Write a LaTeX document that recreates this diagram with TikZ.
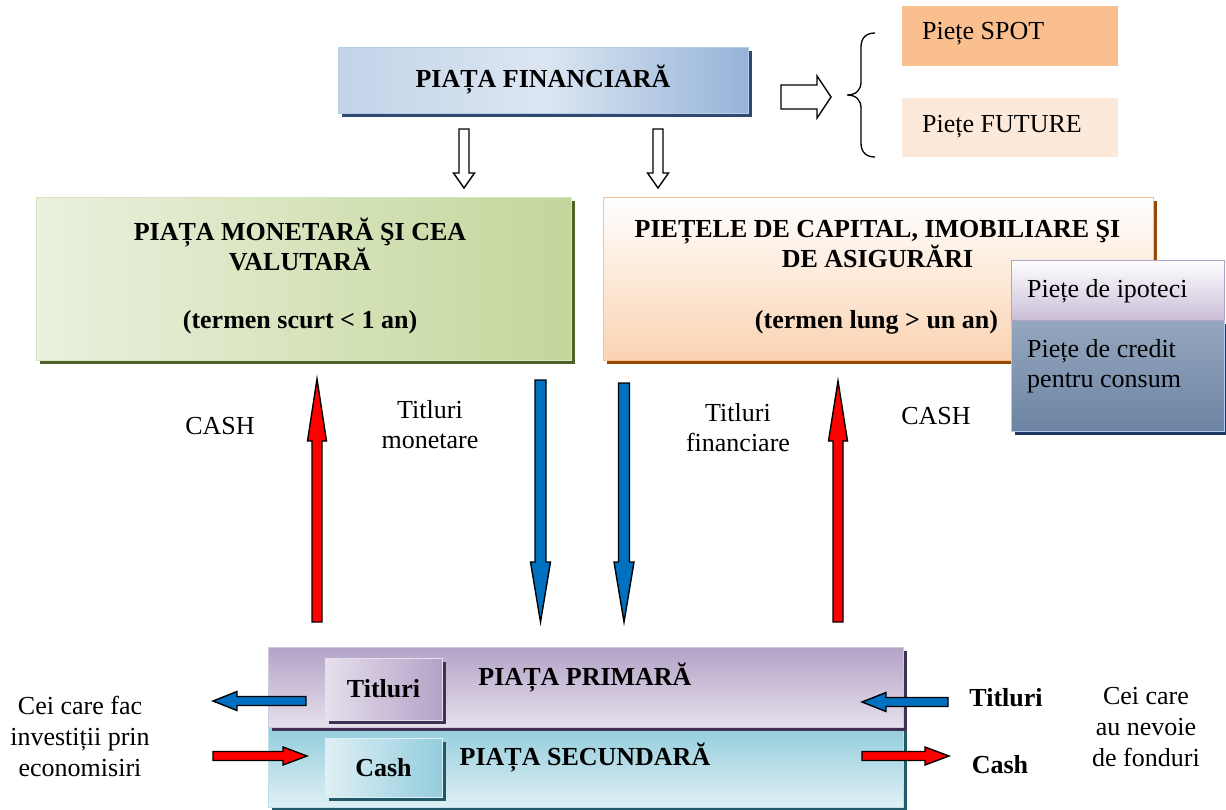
\documentclass[tikz,border=0pt]{standalone}
\usepackage{fontspec}
\setmainfont{Liberation Serif}
\usetikzlibrary{shadows}
\definecolor{pfdark}{HTML}{95B3D7}
\definecolor{pflight}{HTML}{DCE6F2}
\definecolor{pfleft}{HTML}{C2D3E8}
\definecolor{pfshadow}{HTML}{2E4A70}
\definecolor{pfborder}{HTML}{B9CDE5}
\definecolor{grlight}{HTML}{EBF1DE}
\definecolor{grdark}{HTML}{C3D69B}
\definecolor{grshadow}{HTML}{4F6228}
\definecolor{grborder}{HTML}{D7E4BD}
\definecolor{orbottom}{HTML}{FAD3B2}
\definecolor{orborder}{HTML}{FAC090}
\definecolor{orshadow}{HTML}{984807}
\definecolor{spotfill}{HTML}{FABF8F}
\definecolor{futfill}{HTML}{FDE9D9}
\definecolor{lavdark}{HTML}{B3A2C7}
\definecolor{lavlight}{HTML}{E6E0EC}
\definecolor{lavshadow}{HTML}{3F3151}
\definecolor{slatetop}{HTML}{95A7BF}
\definecolor{slatebot}{HTML}{6C84A3}
\definecolor{slateborder}{HTML}{B4C7E7}
\definecolor{slateshadow}{HTML}{1F3864}
\definecolor{aqdark}{HTML}{93CDDD}
\definecolor{aqlight}{HTML}{DFF0F5}
\definecolor{aqshadow}{HTML}{215968}
\definecolor{arrred}{HTML}{FF0000}
\definecolor{arrblue}{HTML}{0070C0}
\newcommand{\myvarrow}[7]{\draw[blockarr, fill=#1] ({#5-#6},#2) -- ({#5-#6},#3) -- ({#5-#7},#3) -- (#5,#4) -- ({#5+#7},#3) -- ({#5+#6},#3) -- ({#5+#6},#2) -- cycle;}
\newcommand{\myharrow}[7]{\draw[blockarr, fill=#1] (#2,{#5-#6}) -- (#3,{#5-#6}) -- (#3,{#5-#7}) -- (#4,#5) -- (#3,{#5+#7}) -- (#3,{#5+#6}) -- (#2,{#5+#6}) -- cycle;}
\begin{document}
\begin{tikzpicture}[x=1pt,y=-1pt,
  every node/.style={font=\fontsize{26}{30}\selectfont, inner sep=0pt},
  txt/.style={align=center},
  btxt/.style={align=center, font=\fontsize{26}{30}\selectfont\bfseries},
  offshadow/.style={drop shadow={fill=#1, opacity=1, shadow xshift=4pt, shadow yshift=-4pt}},
  blockarr/.style={draw=black, line width=1.4pt, line join=miter},
  brace/.style={draw=black, line width=1.3pt}
]
\useasboundingbox (0,0) rectangle (1226,809);
\fill[white] (0,0) rectangle (1226,809);

% top box
\node[offshadow=pfshadow, draw=pfborder, line width=0.8pt, left color=pfleft, right color=pfdark, middle color=pflight,
      minimum width=410pt, minimum height=66pt, font=\fontsize{26}{30}\selectfont\bfseries] (pf) at (543,80) {PIAȚA FINANCIARĂ};

% right arrow + brace + spot/future
\myharrow{white}{781}{817}{831}{97}{12}{21}
\draw[brace] (875,33) .. controls (866,33) and (861,38) .. (861,47) -- (861,82)
  .. controls (861,90) and (856,95) .. (847,95) .. controls (856,95) and (861,100) .. (861,108)
  -- (861,143) .. controls (861,152) and (866,157) .. (875,157);
\node[fill=spotfill, minimum width=216pt, minimum height=60pt] (spot) at (1010,36) {};
\node[anchor=west] (spott) at (922,34) {Piețe SPOT};
\node[fill=futfill, minimum width=216pt, minimum height=59pt] (fut) at (1010,127.5) {};
\node[anchor=west] (futt) at (922,127) {Piețe FUTURE};

% hollow down arrows
\myvarrow{white}{129}{173}{188}{464}{5}{10.5}
\myvarrow{white}{129}{173}{188}{658}{5}{10.5}

% green box
\node[offshadow=grshadow, draw=grborder, line width=0.8pt, shading=axis, left color=grlight, right color=grdark,
      minimum width=535pt, minimum height=163pt] (green) at (303.5,278.5) {};
\node[btxt] (gt1) at (300,244) {PIAȚA MONETARĂ ŞI CEA\\VALUTARĂ};
\node[btxt] (gt2) at (300,322) {(termen scurt < 1 an)};

% orange box
\node[offshadow=orshadow, draw=orborder, line width=0.8pt, top color=white, bottom color=orbottom,
      minimum width=550pt, minimum height=163pt] (orange) at (878,278.5) {};
\node[btxt] (ot1) at (877.5,244) {PIEȚELE DE CAPITAL, IMOBILIARE ŞI\\DE ASIGURĂRI};
\node[btxt] (ot2) at (876.5,322) {(termen lung > un an)};

% side boxes
\node[offshadow=slateshadow, draw=slateborder, line width=1pt, top color=slatetop, bottom color=slatebot,
      minimum width=213pt, minimum height=111pt] (credit) at (1117.5,375.5) {};
\node[draw=lavdark, line width=1pt, top color=white, bottom color=lavdark!70,
      minimum width=213pt, minimum height=60pt] (ipo) at (1117.5,290) {};
\node[anchor=west] (ipot) at (1027,291) {Piețe de ipoteci};
\node[anchor=west, align=left] (credt) at (1027,366) {Piețe de credit\\pentru consum};

% vertical arrows
\myvarrow{arrred}{622}{441}{379}{317}{5}{9.5}
\myvarrow{arrblue}{380}{562}{622}{540.5}{5.5}{10}
\myvarrow{arrblue}{383}{562}{622}{624}{5.5}{10}
\myvarrow{arrred}{622}{441}{381}{838}{5}{9.5}

\node[txt] (cash1) at (220,426) {CASH};
\node[txt] (tm) at (430,425) {Titluri\\monetare};
\node[txt] (tf) at (738,428) {Titluri\\financiare};
\node[txt] (cash2) at (936,416) {CASH};

% bottom bands
\node[offshadow=aqshadow, draw=aqdark!60, line width=1pt, top color=aqdark, bottom color=aqlight,
      minimum width=635pt, minimum height=80pt] (sec) at (585.5,767) {};
\node[offshadow=lavshadow, draw=lavdark!60, line width=1pt, top color=lavdark, bottom color=lavlight,
      minimum width=635pt, minimum height=80pt] (prim) at (585.5,687) {};
\node[btxt] (primt) at (585,678) {PIAȚA PRIMARĂ};
\node[btxt] (sect) at (585,758) {PIAȚA SECUNDARĂ};

\node[offshadow=lavshadow, draw=lavlight, line width=1pt, shading=axis, left color=lavlight, right color=lavdark,
      minimum width=117pt, minimum height=62pt, font=\fontsize{26}{30}\selectfont\bfseries] (tbox) at (383.5,689) {Titluri};
\node[offshadow=aqshadow, draw=aqlight, line width=1pt, shading=axis, left color=aqlight, right color=aqdark,
      minimum width=117pt, minimum height=59pt, font=\fontsize{26}{30}\selectfont\bfseries] (cbox) at (383.5,767.5) {Cash};

% horizontal arrows
\myharrow{arrblue}{306}{237}{213}{701}{4.5}{9.5}
\myharrow{arrred}{213}{283}{307}{756}{4.5}{9}
\myharrow{arrblue}{948}{886}{862}{702}{4.5}{9.5}
\myharrow{arrred}{862}{925}{949}{756}{4.5}{9}

\node[txt, font=\fontsize{26}{31}\selectfont] (left) at (80,736) {Cei care fac\\investiții prin\\economisiri};
\node[txt, font=\fontsize{26}{31}\selectfont] (right) at (1146,727) {Cei care\\au nevoie\\de fonduri};
\node[btxt] (tr) at (1006,698) {Titluri};
\node[btxt] (cr) at (1000,765) {Cash};
\end{tikzpicture}
\end{document}
